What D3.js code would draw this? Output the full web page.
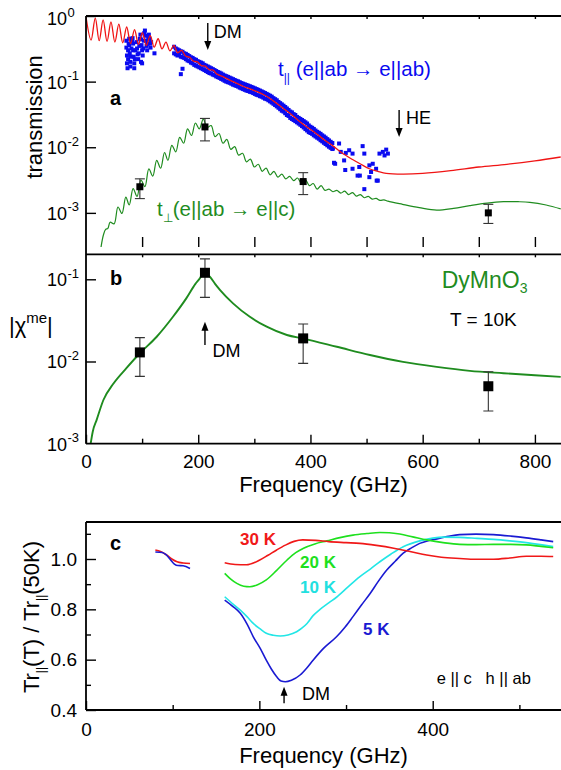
<!DOCTYPE html>
<html>
<head>
<meta charset="utf-8">
<script src="https://cdn.jsdelivr.net/npm/d3@7"></script>
<style>
  body { margin: 0; background: #fff; }
  svg { display: block; font-family: "Liberation Sans", Arial, Helvetica, sans-serif; }
</style>
</head>
<body>
<div id="chart"></div>
<script>
// ---- panel a: transmission fits and data ----
const tParFit = [[0,0.97],[9,0.43],[16.5,0.93],[23.5,0.42],[30.5,0.87],[37.5,0.41],[44.5,0.81],[51.5,0.40],
  [58.5,0.75],[65.5,0.39],[72.5,0.68],[79.5,0.38],[86.5,0.62],[93.5,0.37],[100.5,0.56],[107.5,0.355],
  [114.5,0.50],[121.5,0.335],[128.5,0.45],[135.5,0.315],[142.5,0.40],[149.5,0.295],[156.5,0.355],[163.5,0.275],
  [170.5,0.30],[177.5,0.245],[184.5,0.235],[191.5,0.205],[198.5,0.20],[205.5,0.175],[212.5,0.172],[219.5,0.152],
  [226.5,0.15],[233.5,0.13],[245,0.118],[260,0.102],[280,0.085],[300,0.073],[320,0.061],[335,0.050],[350,0.040],
  [365,0.032],[380,0.025],[395,0.020],[410,0.0162],[425,0.0129],[440,0.0105],[455,0.0083],[475,0.0065],
  [490,0.0055],[505,0.0047],[520,0.0043],[535,0.0040],[565,0.0039],[600,0.0040],[650,0.0044],[700,0.0050],
  [750,0.0055],[800,0.0062],[846,0.0071]];

const tParData = [
  [72,0.42],[72,0.33],[73,0.25],[73,0.19],[74,0.16],[75,0.22],[75,0.30],[76,0.38],[77,0.45],[77,0.36],[78,0.27],
  [79,0.20],[79,0.17],[80,0.24],[81,0.32],[82,0.41],[83,0.46],[84,0.38],[84,0.30],[85,0.24],[86,0.19],[86,0.16],
  [87,0.22],[88,0.30],[90,0.40],[91,0.32],[92,0.26],[93,0.22],[94,0.27],[95,0.35],[96,0.45],[97,0.52],[98,0.44],
  [98,0.20],[99,0.36],[100,0.30],[100,0.19],[101,0.25],[102,0.32],[103,0.42],[104,0.55],[105,0.60],[106,0.50],
  [107,0.42],[108,0.35],[109,0.30],[110,0.38],[111,0.46],[112,0.52],[113,0.45],[114,0.38],[115,0.33],[116,0.40],
  [122,0.27],
  [157,0.34],[157,0.27],[160,0.32],[160,0.26],[163,0.31],[163,0.25],[166,0.30],[166,0.255],[169,0.29],[169,0.13],
  [169,0.24],[172,0.285],[172,0.157],[172,0.235],[175,0.27],[175,0.23],[178,0.265],[178,0.22],[181,0.255],[181,0.21],
  [184,0.245],[184,0.205],[187,0.235],[187,0.195],[190,0.23],[190,0.19],[193,0.22],[193,0.18],[196,0.215],[196,0.175],
  [199,0.205],[199,0.17],[202,0.20],[202,0.165],[205,0.195],[205,0.16],[208,0.19],[208,0.155],[211,0.18],[211,0.15],
  [214,0.175],[214,0.145],[217,0.17],[217,0.14],[220,0.165],[220,0.135],[223,0.16],[223,0.133],[226,0.155],[226,0.128],
  [229,0.15],[229,0.125],[232,0.145],[232,0.12],[235,0.14],[235,0.117],[238,0.137],[238,0.114],[241,0.133],[241,0.11],
  [244,0.128],[244,0.107],[247,0.124],[247,0.103],[250,0.121],[250,0.10],[253,0.118],[253,0.098],[256,0.115],[256,0.096],
  [259,0.112],[259,0.093],[262,0.109],[262,0.09],[265,0.106],[265,0.088],[268,0.103],[268,0.086],[271,0.101],[271,0.084],
  [274,0.098],[274,0.081],[277,0.095],[277,0.079],[280,0.093],[280,0.077],[283,0.091],[283,0.075],[286,0.089],[286,0.073],
  [289,0.087],[289,0.072],[292,0.085],[292,0.07],[295,0.083],[295,0.069],[298,0.081],[298,0.067],[301,0.079],[301,0.065],
  [304,0.077],[304,0.063],[307,0.075],[307,0.062],[310,0.073],[310,0.06],[313,0.071],[313,0.059],[316,0.069],[316,0.057],
  [319,0.067],[319,0.055],[322,0.065],[322,0.054],[325,0.063],[325,0.052],[328,0.061],[328,0.05],[331,0.059],[331,0.048],
  [334,0.056],[334,0.046],[337,0.054],[337,0.044],[340,0.052],[340,0.042],[343,0.049],[343,0.04],[346,0.047],[346,0.038],
  [349,0.045],[349,0.036],[352,0.043],[352,0.035],[355,0.041],[355,0.033],[358,0.039],[358,0.031],[361,0.037],[361,0.03],
  [364,0.035],[364,0.028],[367,0.034],[367,0.027],[370,0.032],[370,0.026],[373,0.031],[373,0.025],[376,0.029],[376,0.024],
  [379,0.028],[379,0.023],[382,0.027],[382,0.022],[385,0.026],[385,0.021],[388,0.025],[388,0.02],[391,0.024],[391,0.0189],
  [394,0.023],[394,0.018],[397,0.0215],[397,0.017],[400,0.0205],[400,0.0165],[403,0.0198],[403,0.016],[406,0.019],
  [406,0.0152],[409,0.018],[409,0.0146],[412,0.0172],[412,0.014],[415,0.0166],[415,0.0135],[418,0.016],[418,0.0128],
  [421,0.0152],[421,0.0123],[424,0.0146],[424,0.0117],[427,0.014],[427,0.0112],[430,0.0133],[430,0.0107],[433,0.0127],
  [433,0.0102],[436,0.0121],[436,0.0098],[439,0.0116],[439,0.0094],
  [442,0.0058],[444,0.0056],[440,0.0096],[451,0.0114],[454,0.0085],[460,0.0063],[462,0.0045],[463,0.0082],[469,0.0090],
  [475,0.0047],[475,0.0080],[484,0.0037],[487,0.0050],[488,0.0037],[493,0.0104],[496,0.0080],[496,0.0023],[505,0.0053],
  [505,0.0035],[508,0.0042],[511,0.0056],[517,0.0047],[518,0.0031],[520,0.0031],[523,0.0080],[529,0.0085],[532,0.0075],
  [535,0.0092],[538,0.0080]];

const tPerpFit = [[26.5,2.9e-4],[31,4.6e-4],[35,5.6e-4],[39,5.8e-4],[43,7.2e-4],[50,6.8e-4],[57,1.23e-3],[64,9.8e-4],
  [71,1.74e-3],[77,1.32e-3],[84,2.34e-3],[91,1.78e-3],[98,3.16e-3],[105,2.51e-3],[112,4.68e-3],[119,3.63e-3],
  [126,6.31e-3],[133,4.79e-3],[140,8.32e-3],[146,6.31e-3],[153,1.07e-2],[160,8.51e-3],[167,1.41e-2],[174,1.15e-2],
  [181,1.91e-2],[188,1.51e-2],[195,2.34e-2],[202,1.91e-2],[209,2.69e-2],[216,2.0e-2],[223,2.14e-2],[230,1.45e-2],
  [237,1.62e-2],[244,1.15e-2],[251,1.32e-2],[258,9.3e-3],[265,1.02e-2],[272,7.6e-3],[279,8.1e-3],[286,6.0e-3],
  [293,6.6e-3],[300,5.0e-3],[307,5.5e-3],[314,4.3e-3],[321,4.8e-3],[328,3.8e-3],[335,4.3e-3],[342,3.5e-3],
  [349,3.9e-3],[356,3.3e-3],[363,3.6e-3],[370,3.1e-3],[377,3.4e-3],[384,2.8e-3],[391,3.2e-3],[398,2.6e-3],
  [405,2.8e-3],[412,2.3e-3],[419,2.6e-3],[426,2.2e-3],[433,2.3e-3],[440,2.1e-3],[447,2.2e-3],[454,2.0e-3],
  [461,2.14e-3],[468,1.9e-3],[475,2.04e-3],[482,1.8e-3],[489,1.9e-3],[496,1.7e-3],[503,1.78e-3],[510,1.62e-3],
  [517,1.66e-3],[524,1.55e-3],[531,1.58e-3],[538,1.51e-3],[564,1.35e-3],[594,1.2e-3],[625,1.1e-3],[655,1.17e-3],
  [684,1.29e-3],[715,1.41e-3],[744,1.48e-3],[770,1.48e-3],[791,1.45e-3],[820,1.32e-3],[846,1.15e-3]];

const measFreq = [96, 212, 387, 717];
const tPerpVal = [0.0025, 0.0204, 0.0030, 0.0010];
const tPerpLo  = [0.00165, 0.0125, 0.0019, 0.00069];
const tPerpHi  = [0.0033, 0.0275, 0.0041, 0.00135];

// ---- panel b: |chi_me| ----
const chiVal = [0.0129, 0.120, 0.0191, 0.0050];
const chiLo  = [0.0066, 0.0603, 0.0095, 0.0025];
const chiHi  = [0.0195, 0.177, 0.0286, 0.0075];
const chiFit = [[8.3,0.001],[12,0.0014],[19,0.00195],[31,0.0034],[49,0.0054],[72,0.0083],[96,0.0126],[126,0.020],
  [155,0.035],[179,0.059],[195,0.088],[203,0.103],[210,0.124],[215,0.118],[221,0.107],[230,0.088],[239,0.074],
  [262,0.051],[292,0.035],[322,0.0265],[358,0.021],[387,0.019],[447,0.0151],[506,0.012],[565,0.0099],[625,0.0086],
  [684,0.0077],[744,0.0072],[800,0.0068],[846,0.0065]];

// ---- panel c: Tr(T)/Tr(50K) ----
const r30Low = [[80,1.036],[86,1.030],[93,1.016],[99,1.000],[105,0.989],[112,0.984],[120,0.982]];
const r5Low  = [[80,1.028],[88,1.026],[92,1.018],[97,0.999],[102,0.980],[106,0.974],[112,0.973],[120,0.962]];
const r30 = [[160,0.985],[172,0.978],[185,0.977],[200,0.995],[210,1.015],[220,1.036],[230,1.055],[240,1.070],
  [250,1.076],[265,1.074],[280,1.069],[300,1.065],[316,1.062],[335,1.054],[355,1.043],[375,1.029],[393,1.016],
  [410,1.007],[431,1.002],[450,0.999],[470,0.999],[489,1.004],[508,1.011],[525,1.011],[539,1.010]];
const r20 = [[160,0.943],[167,0.92],[174,0.903],[182,0.892],[189,0.890],[198,0.898],[208,0.917],[220,0.955],
  [232,0.996],[242,1.025],[251,1.043],[264,1.060],[278,1.072],[293,1.085],[308,1.095],[324,1.101],[339,1.105],
  [350,1.104],[362,1.099],[377,1.088],[393,1.076],[412,1.065],[431,1.058],[450,1.057],[470,1.058],[490,1.058],
  [508,1.056],[525,1.050],[539,1.045]];
const r10 = [[160,0.850],[170,0.820],[178,0.797],[186,0.770],[193,0.744],[201,0.722],[208,0.705],[216,0.697],
  [224,0.694],[233,0.698],[243,0.711],[249,0.725],[255,0.744],[262,0.775],[270,0.800],[280,0.826],[289,0.848],
  [302,0.888],[316,0.930],[328,0.960],[339,0.989],[352,1.020],[366,1.049],[385,1.072],[400,1.083],[412,1.087],
  [431,1.086],[451,1.082],[470,1.078],[489,1.072],[510,1.064],[539,1.049]];
const r5 = [[160,0.837],[170,0.81],[178,0.784],[186,0.74],[193,0.691],[201,0.645],[208,0.598],[214,0.562],
  [220,0.532],[225,0.515],[230,0.512],[237,0.518],[247,0.539],[255,0.568],[262,0.598],[274,0.645],[289,0.691],
  [299,0.73],[308,0.771],[318,0.818],[328,0.864],[337,0.910],[347,0.956],[357,0.992],[366,1.023],[376,1.045],
  [385,1.062],[395,1.073],[405,1.080],[418,1.090],[431,1.097],[450,1.099],[470,1.097],[490,1.091],[508,1.084],
  [525,1.076],[539,1.069]];

const xTicksAB = [100, 200, 300, 400, 500, 600, 700, 800];
const logTicksA = [0, -1, -2, -3];
const logTicksB = [-1, -2, -3];

const RED = "#f01414", BLUE = "#0a0af0", GREEN = "#1f8c1f";

const svg = d3.select("#chart").append("svg").attr("width", 561).attr("height", 770);

// scales
const xAB = d3.scaleLinear().domain([0, 846.5]).range([86, 561]);
const yA = d3.scaleLog().domain([Math.pow(10, -3.52), 1]).range([247, 16]);
const yB = d3.scaleLog().domain([1e-3, Math.pow(10, -0.696)]).range([443.7, 254.3]);
const xC = d3.scaleLinear().domain([0, 548]).range([86, 561]);
const yC = d3.scaleLinear().domain([0.4, 1.147]).range([710, 522]);

const defs = svg.append("defs");
function clip(id, x, y) {
  defs.append("clipPath").attr("id", id).append("rect")
    .attr("x", x.range()[0]).attr("y", d3.min(y.range()))
    .attr("width", x.range()[1] - x.range()[0])
    .attr("height", Math.abs(y.range()[0] - y.range()[1]));
}
clip("clipA", xAB, yA);
clip("clipB", xAB, yB);
clip("clipC", xC, yC);

function ticks(axis, transform) {
  svg.append("g").attr("transform", transform).call(axis)
    .call(g => g.select(".domain").remove())
    .call(g => g.selectAll(".tick line").attr("stroke", "#000").attr("stroke-width", 1.4))
    .call(g => g.selectAll(".tick text").attr("font-size", 19).attr("fill", "#000")
      .attr("font-family", '"Liberation Sans", Arial, sans-serif'));
}
function frameLine(x1, y1, x2, y2) {
  svg.append("line").attr("x1", x1).attr("y1", y1).attr("x2", x2).attr("y2", y2)
    .attr("stroke", "#000").attr("stroke-width", 1.8);
}
function arrow(x, yTail, yTip) {
  const dir = yTip > yTail ? 1 : -1;
  svg.append("line").attr("x1", x).attr("x2", x).attr("y1", yTail).attr("y2", yTip - dir * 6)
    .attr("stroke", "#000").attr("stroke-width", 1.4);
  svg.append("path").attr("d", `M${x - 3.5},${yTip - dir * 9}L${x + 3.5},${yTip - dir * 9}L${x},${yTip}Z`)
    .attr("fill", "#000");
}
function label(x, y, txt, size, opts = {}) {
  return svg.append("text").attr("x", x).attr("y", y).attr("font-size", size)
    .attr("fill", opts.fill || "#000").attr("font-weight", opts.bold ? "bold" : null)
    .attr("text-anchor", opts.anchor || "start").style("white-space", "pre").text(txt);
}
function logLabel(yPos, exp) {
  label(67, yPos + 7, "10", 18, { anchor: "end" });
  label(67.5, yPos - 1.5, String(exp), 13);
}

// ===== panel a =====
const gA = svg.append("g").attr("clip-path", "url(#clipA)");
gA.selectAll("rect.tpar").data(tParData).join("rect").attr("class", "tpar")
  .attr("x", d => xAB(d[0]) - 2).attr("y", d => yA(d[1]) - 2).attr("width", 4).attr("height", 4)
  .attr("fill", BLUE);
const lineA = d3.line().x(d => xAB(d[0])).y(d => yA(d[1])).curve(d3.curveCatmullRom.alpha(0.5));
gA.append("path").attr("d", lineA(tParFit)).attr("fill", "none").attr("stroke", RED).attr("stroke-width", 1.3);
gA.append("path").attr("d", lineA(tPerpFit)).attr("fill", "none").attr("stroke", GREEN).attr("stroke-width", 1.2);

measFreq.forEach((f, i) => {
  const x = xAB(f);
  gA.append("line").attr("x1", x).attr("x2", x).attr("y1", yA(tPerpLo[i])).attr("y2", yA(tPerpHi[i]))
    .attr("stroke", "#333").attr("stroke-width", 1.1);
  [tPerpLo[i], tPerpHi[i]].forEach(v => gA.append("line").attr("x1", x - 5).attr("x2", x + 5)
    .attr("y1", yA(v)).attr("y2", yA(v)).attr("stroke", "#333").attr("stroke-width", 1.1));
  gA.append("rect").attr("x", x - 3.5).attr("y", yA(tPerpVal[i]) - 3.5).attr("width", 7).attr("height", 7)
    .attr("fill", "#000");
});

ticks(d3.axisLeft(yA).tickValues(logTicksA.map(e => Math.pow(10, e))).tickSize(-10).tickFormat(""), "translate(86,0)");
ticks(d3.axisBottom(xAB).tickValues(xTicksAB).tickSize(-10).tickFormat(""), "translate(0,247)");
ticks(d3.axisTop(xAB).tickValues(xTicksAB).tickSize(-3).tickFormat(""), "translate(0,16)");
frameLine(86, 16, 561, 16);
logTicksA.forEach(e => logLabel(yA(Math.pow(10, e)) + (e === 0 ? 2 : 0), e));

svg.append("text").attr("transform", "translate(41.5,117) rotate(-90)").attr("text-anchor", "middle")
  .attr("font-size", 22).text("transmission");
label(110, 105, "a", 20, { bold: true });

arrow(xAB(217), 23, 50);
label(xAB(217) + 6, 38, "DM", 18);
arrow(xAB(558), 110, 137);
label(xAB(558) + 7, 124, "HE", 18);

const tPar = svg.append("text").attr("x", 278).attr("y", 76).attr("fill", BLUE).attr("font-size", 20.5);
tPar.append("tspan").text("t");
tPar.append("tspan").attr("font-size", 12).attr("dy", 6).text("||");
tPar.append("tspan").attr("dy", -6).text("\u00A0(e||ab \u2192 e||ab)");

const tPerp = svg.append("text").attr("x", 157).attr("y", 216).attr("fill", GREEN).attr("font-size", 20.5);
tPerp.append("tspan").text("t");
tPerp.append("tspan").attr("font-size", 12).attr("dy", 6).text("\u22A5");
tPerp.append("tspan").attr("dy", -6).text("(e||ab \u2192 e||c)");

// ===== panel b =====
const gB = svg.append("g").attr("clip-path", "url(#clipB)");
const lineB = d3.line().x(d => xAB(d[0])).y(d => yB(d[1])).curve(d3.curveMonotoneX);
gB.append("path").attr("d", lineB(chiFit)).attr("fill", "none").attr("stroke", GREEN).attr("stroke-width", 1.9);
measFreq.forEach((f, i) => {
  const x = xAB(f);
  gB.append("line").attr("x1", x).attr("x2", x).attr("y1", yB(chiLo[i])).attr("y2", yB(chiHi[i]))
    .attr("stroke", "#333").attr("stroke-width", 1.1);
  [chiLo[i], chiHi[i]].forEach(v => gB.append("line").attr("x1", x - 5).attr("x2", x + 5)
    .attr("y1", yB(v)).attr("y2", yB(v)).attr("stroke", "#333").attr("stroke-width", 1.1));
  gB.append("rect").attr("x", x - 5).attr("y", yB(chiVal[i]) - 5).attr("width", 10).attr("height", 10)
    .attr("fill", "#000");
});

ticks(d3.axisLeft(yB).tickValues([0.1, 0.01]).tickSize(-10).tickFormat(""), "translate(86,0)");
ticks(d3.axisTop(xAB).tickValues(xTicksAB).tickSize(-3).tickFormat(""), "translate(0,254.3)");
ticks(d3.axisBottom(xAB).tickValues([100, 300, 500, 700]).tickSize(-5).tickFormat(""), "translate(0,443.7)");
ticks(d3.axisBottom(xAB).tickValues([0, 200, 400, 600, 800]).tickSize(-9).tickPadding(11).tickFormat(d3.format("d")),
  "translate(0,443.7)");
frameLine(86, 254.3, 561, 254.3);
frameLine(86, 443.7, 561, 443.7);
frameLine(86, 16, 86, 443.7);
logTicksB.forEach(e => logLabel(yB(Math.pow(10, e)), e));

const chiLab = svg.append("text").attr("x", 9).attr("y", 333).attr("font-size", 22);
chiLab.append("tspan").text("|\u03C7");
chiLab.append("tspan").attr("font-size", 15).attr("dy", -10).text("me");
chiLab.append("tspan").attr("dy", 10).text("|");

svg.append("text").attr("x", 323.5).attr("y", 492).attr("text-anchor", "middle").attr("font-size", 22)
  .text("Frequency (GHz)");
label(110, 285, "b", 20, { bold: true });
const dy = svg.append("text").attr("x", 441.7).attr("y", 288).attr("fill", GREEN).attr("font-size", 23);
dy.append("tspan").text("DyMnO");
dy.append("tspan").attr("font-size", 14).attr("dy", 5).text("3");
label(450, 326, "T = 10K", 19);
arrow(xAB(212), 345, 321.7);
label(xAB(212) + 7.5, 357, "DM", 18);

// ===== panel c =====
const gC = svg.append("g").attr("clip-path", "url(#clipC)");
const lineC = d3.line().x(d => xC(d[0])).y(d => yC(d[1])).curve(d3.curveMonotoneX);
const seriesC = [
  { d: r30Low, c: "#f01818" }, { d: r5Low, c: "#1a1ad2" },
  { d: r5, c: "#1a1ad2" }, { d: r10, c: "#22e6e6" }, { d: r20, c: "#1ee01e" }, { d: r30, c: "#f01818" }];
seriesC.forEach(s => gC.append("path").attr("d", lineC(s.d)).attr("fill", "none")
  .attr("stroke", s.c).attr("stroke-width", 1.6));

ticks(d3.axisLeft(yC).tickValues([0.5, 0.7, 0.9, 1.1]).tickSize(-5).tickFormat(""), "translate(86,0)");
ticks(d3.axisLeft(yC).tickValues([0.4, 0.6, 0.8, 1.0]).tickSize(-10).tickPadding(9).tickFormat(d3.format(".1f")),
  "translate(86,0)");
ticks(d3.axisBottom(xC).tickValues([100, 300, 500]).tickSize(-5).tickFormat(""), "translate(0,710)");
ticks(d3.axisBottom(xC).tickValues([0, 200, 400]).tickSize(-9).tickPadding(13).tickFormat(d3.format("d")),
  "translate(0,710)");
frameLine(86, 522, 561, 522);
frameLine(86, 710, 561, 710);
frameLine(86, 522, 86, 710);

const yl = svg.append("text").attr("transform", "translate(38.5,617) rotate(-90)").attr("text-anchor", "middle")
  .attr("font-size", 22);
yl.append("tspan").text("Tr");
yl.append("tspan").attr("font-size", 12).attr("dy", 6).text("||");
yl.append("tspan").attr("dy", -6).text("(T) / Tr");
yl.append("tspan").attr("font-size", 12).attr("dy", 6).text("||");
yl.append("tspan").attr("dy", -6).text("(50K)");

svg.append("text").attr("x", 323.5).attr("y", 763).attr("text-anchor", "middle").attr("font-size", 22)
  .text("Frequency (GHz)");
label(110, 550, "c", 20, { bold: true });
label(240, 545, "30 K", 17, { bold: true, fill: "#f01818" });
label(300, 568, "20 K", 17, { bold: true, fill: "#1ee01e" });
label(300, 593, "10 K", 17, { bold: true, fill: "#22e0e0" });
label(363, 635, "5 K", 17, { bold: true, fill: "#1a1ad2" });
label(436.7, 684, "e || c\u00A0\u00A0\u00A0h || ab", 16.5);
arrow(xC(228.5), 703.3, 686.7);
label(xC(228.5) + 18, 700, "DM", 18);
</script>
</body>
</html>
